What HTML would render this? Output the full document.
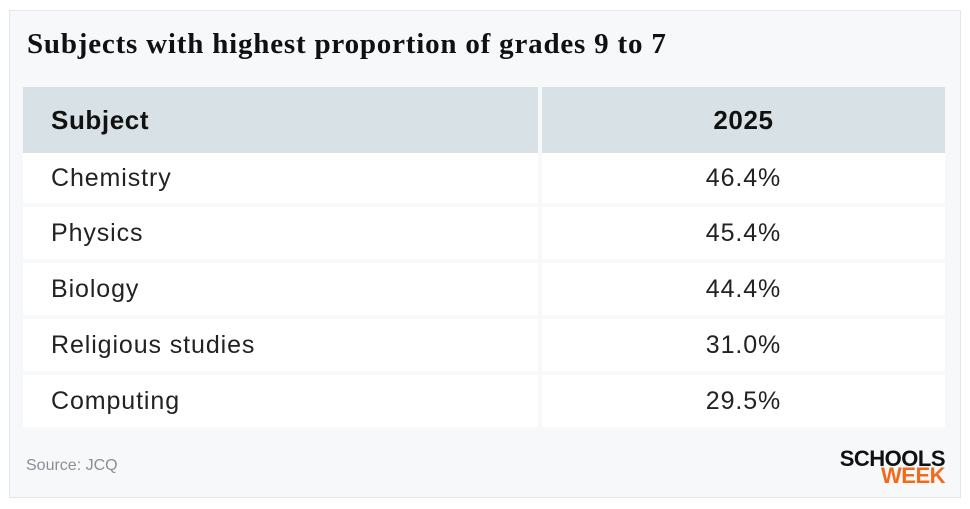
<!DOCTYPE html>
<html><head><meta charset="utf-8"><style>
body{margin:0;width:970px;height:509px;background:#fff;font-family:"Liberation Sans",sans-serif;position:relative;overflow:hidden}
#card{position:absolute;left:9px;top:10px;width:950px;height:486px;background:#f7f8fa;border:1px solid #e3e6ea}
#title{position:absolute;left:27px;top:28px;font-family:"Liberation Serif",serif;font-weight:bold;font-size:29px;letter-spacing:0.8px;color:#111}
.cell{position:absolute;box-sizing:border-box;display:flex;align-items:center;font-size:25px;letter-spacing:0.9px;color:#222}
.hd{background:#d8e2e6;font-weight:bold;color:#111;font-size:26px;letter-spacing:0.6px}
.bd{background:#fff}
#src{position:absolute;left:26px;top:457px;font-size:16px;color:#8a8f96}
#logo{position:absolute;left:833px;top:450px;font-weight:900;font-size:22px;line-height:17px;text-align:right;width:112px;letter-spacing:-0.5px}
</style></head><body>
<div id="card"></div>
<div id="title">Subjects with highest proportion of grades 9 to 7</div>
<div id="tbl"></div>
<div id="src">Source: JCQ</div>
<div id="logo"><span style="color:#111">SCHOOLS</span><br><span style="color:#f26a1b">WEEK</span></div>
<script>
const subjects=["Chemistry","Physics","Biology","Religious studies","Computing"];
const values=["46.4%","45.4%","44.4%","31.0%","29.5%"];
const t=document.getElementById('tbl');
function cell(x,y,w,h,txt,cls,center,name){const d=document.createElement('div');d.className='cell '+cls;
d.style.cssText=`left:${x}px;top:${y}px;width:${w}px;height:${h}px;`+(center?'justify-content:center;':'padding-left:28px;');
d.textContent=txt;


t.appendChild(d);}
cell(23,87,515,66,"Subject","hd",false,"header-subject");
cell(542,87,403,66,"2025","hd",true,"header-2025");
subjects.forEach((s,i)=>{const y=i?207+(i-1)*56:153,h=i?52:50;
cell(23,y,515,h,s,"bd",false,"row-subject");
cell(542,y,403,h,values[i],"bd",true,"row-value");});
</script>
</body></html>
